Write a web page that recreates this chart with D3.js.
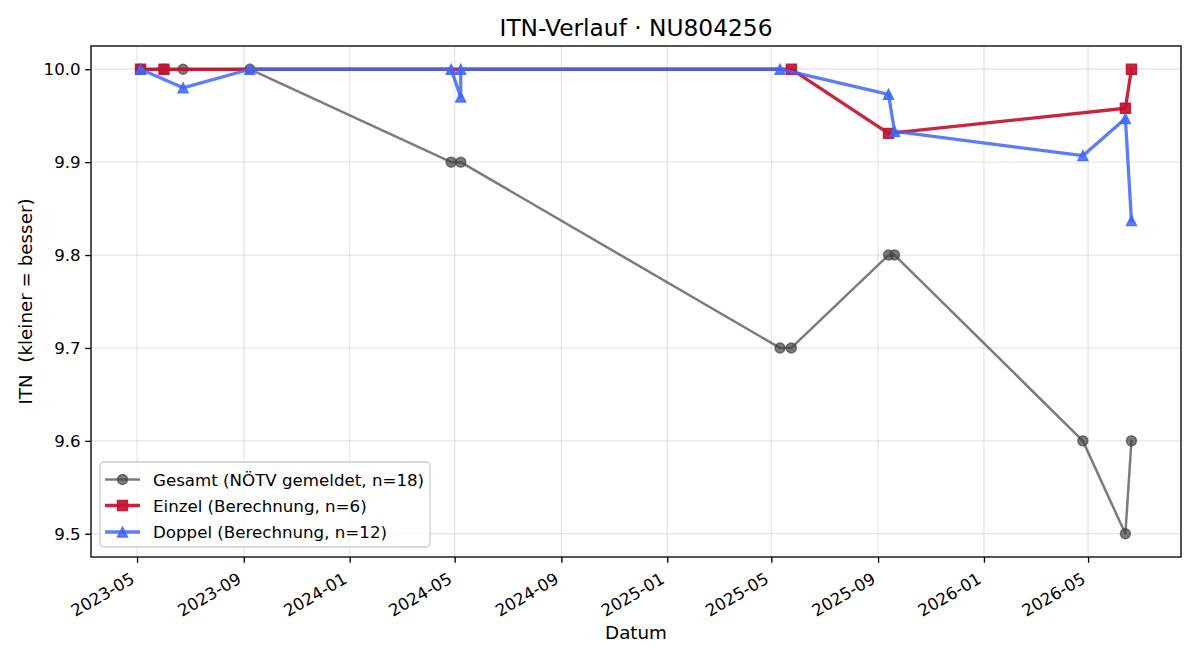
<!DOCTYPE html>
<html><head><meta charset="utf-8">
<script src="https://cdn.jsdelivr.net/npm/d3@7"></script>
<style>
body{margin:0;background:#fff;}
svg{font-family:"DejaVu Sans",sans-serif;}
</style></head>
<body><svg id="c" width="1200" height="660"></svg>
<script>
// ---- data ----
const gesamtDates  = ["2023-05-05","2023-06-01","2023-06-23","2023-09-08","2024-04-27","2024-05-08","2025-05-11","2025-05-24","2025-09-13","2025-09-20","2026-04-25","2026-06-13","2026-06-20"];
const gesamtValues = [10.0,10.0,10.0,10.0,9.9,9.9,9.7,9.7,9.8,9.8,9.6,9.5,9.6];
const einzelDates  = ["2023-05-05","2023-06-01","2025-05-24","2025-09-13","2026-06-13","2026-06-20"];
const einzelValues = [10.0,10.0,10.0,9.931,9.958,10.0];
const doppelDates  = ["2023-05-05","2023-06-23","2023-09-08","2024-04-27","2024-05-08","2024-05-08","2025-05-11","2025-09-13","2025-09-20","2026-04-25","2026-06-13","2026-06-20"];
const doppelValues = [10.0,9.98,10.0,10.0,9.97,10.0,10.0,9.973,9.933,9.907,9.947,9.837];
const xTickLabels = ["2023-05","2023-09","2024-01","2024-05","2024-09","2025-01","2025-05","2025-09","2026-01","2026-05"];
const yTickLabels = ["9.5","9.6","9.7","9.8","9.9","10.0"];
const seriesNames = ["Gesamt (NÖTV gemeldet, n=18)","Einzel (Berechnung, n=6)","Doppel (Berechnung, n=12)"];
const titleText = "ITN-Verlauf · NU804256";
const xLabel = "Datum";
const yLabel = "ITN  (kleiner = besser)";

// ---- setup ----
const svg = d3.select("#c");
const L = 91, R = 1181, T = 46, B = 557;
const parse = d3.utcParse("%Y-%m-%d");
const parseM = d3.utcParse("%Y-%m");
const mk = (ds, vs) => ds.map((d,i)=>({date:parse(d), v:vs[i]}));
const series = [
  {name:seriesNames[0], data:mk(gesamtDates,gesamtValues), color:"#444444", op:0.7, lw:2.5, marker:"circle"},
  {name:seriesNames[1], data:mk(einzelDates,einzelValues), color:"#c41230", op:0.92, lw:3.3, marker:"square"},
  {name:seriesNames[2], data:mk(doppelDates,doppelValues), color:"#3f66f5", op:0.85, lw:3.3, marker:"triangle"}
];
const all = series.flatMap(s=>s.data);
const [xmin,xmax] = d3.extent(all, d=>d.date);
const xpad = (xmax-xmin)*0.05;
const [ymin,ymax] = d3.extent(all, d=>d.v);
const ypad = (ymax-ymin)*0.05;
const x = d3.scaleUtc().domain([new Date(+xmin-xpad), new Date(+xmax+xpad)]).range([L,R]);
const y = d3.scaleLinear().domain([ymin-ypad, ymax+ypad]).range([B,T]);
const xTicks = xTickLabels.map(t=>parseM(t));
const yTicks = yTickLabels.map(Number);

// grid
const g = svg.append("g");
g.selectAll(".vg").data(xTicks).join("line")
  .attr("x1",d=>x(d)).attr("x2",d=>x(d)).attr("y1",T).attr("y2",B)
  .attr("stroke","#b0b0b0").attr("stroke-opacity",0.3).attr("stroke-width",1.33);
g.selectAll(".hg").data(yTicks).join("line")
  .attr("x1",L).attr("x2",R).attr("y1",d=>y(d)).attr("y2",d=>y(d))
  .attr("stroke","#b0b0b0").attr("stroke-opacity",0.3).attr("stroke-width",1.33);

// axes via d3
const xAxis = svg.append("g").attr("transform",`translate(0,${B})`)
  .call(d3.axisBottom(x).tickValues(xTicks).tickFormat((d,i)=>xTickLabels[i]).tickSize(5.8).tickPadding(5.8));
xAxis.select(".domain").remove();
xAxis.selectAll(".tick line").attr("stroke","#000").attr("stroke-width",1.33);
xAxis.selectAll(".tick text")
  .attr("font-size","16.67px").attr("fill","#000").attr("font-family","DejaVu Sans")
  .attr("text-anchor","end").attr("dy",null).attr("y",-3.9).attr("x",0)
  .attr("transform","translate(0,28.6) rotate(-30)");

const yAxis = svg.append("g").attr("transform",`translate(${L},0)`)
  .call(d3.axisLeft(y).tickValues(yTicks).tickFormat((d,i)=>yTickLabels[i]).tickSize(5.8).tickPadding(4.5));
yAxis.select(".domain").remove();
yAxis.selectAll(".tick line").attr("stroke","#000").attr("stroke-width",1.33);
yAxis.selectAll(".tick text").attr("font-size","16.67px").attr("fill","#000").attr("font-family","DejaVu Sans");

// lines & markers
const line = d3.line().x(d=>x(d.date)).y(d=>y(d.v));
function markerPath(type, s){
  if(type==="circle"){ return d3.symbol(d3.symbolCircle, Math.PI*s*s/4)(); }
  if(type==="square"){ const h=s/2; return `M${-h},${-h}H${h}V${h}H${-h}Z`; }
  const h=s/2; return `M0,${-h}L${h},${h}L${-h},${h}Z`;
}
const msize = {circle:10, square:10, triangle:10};
series.forEach(s=>{
  const sg = svg.append("g");
  sg.append("path").datum(s.data).attr("d",line).attr("fill","none")
    .attr("stroke",s.color).attr("stroke-opacity",s.op).attr("stroke-width",s.lw)
    .attr("stroke-linejoin","round").attr("stroke-linecap","square");
  sg.selectAll("path.m").data(s.data).join("path").attr("class","m")
    .attr("d",markerPath(s.marker, msize[s.marker]))
    .attr("transform",d=>`translate(${x(d.date)},${y(d.v)})`)
    .attr("fill",s.color).attr("fill-opacity",s.op)
    .attr("stroke",s.color).attr("stroke-opacity",s.op).attr("stroke-width",1.4);
});

// frame
svg.append("rect").attr("x",L).attr("y",T).attr("width",R-L).attr("height",B-T)
  .attr("fill","none").attr("stroke","#000").attr("stroke-width",1.33);

// title & labels
svg.append("text").attr("x",(L+R)/2).attr("y",36).attr("text-anchor","middle")
  .attr("font-size","23.3px").attr("fill","#000").text(titleText);
svg.append("text").attr("x",(L+R)/2).attr("y",639).attr("text-anchor","middle")
  .attr("font-size","18.3px").attr("fill","#000").text(xLabel);
svg.append("text").attr("transform",`translate(32,${(T+B)/2}) rotate(-90)`).attr("text-anchor","middle")
  .attr("font-size","18.3px").attr("fill","#000").style("white-space","pre").text(yLabel);

// legend
const lg = svg.append("g");
lg.append("rect").attr("x",100).attr("y",462).attr("width",330).attr("height",85).attr("rx",4)
  .attr("fill","#fff").attr("fill-opacity",0.8).attr("stroke","#cccccc").attr("stroke-width",1.33);
const rowY = [479.5, 505.5, 532];
series.forEach((s,i)=>{
  const yy = rowY[i];
  lg.append("line").attr("x1",105).attr("x2",140).attr("y1",yy).attr("y2",yy)
    .attr("stroke",s.color).attr("stroke-opacity",s.op).attr("stroke-width",s.lw);
  lg.append("path").attr("d",markerPath(s.marker, msize[s.marker]))
    .attr("transform",`translate(122.5,${yy})`)
    .attr("fill",s.color).attr("fill-opacity",s.op)
    .attr("stroke",s.color).attr("stroke-opacity",s.op).attr("stroke-width",1.4);
  lg.append("text").attr("x",153).attr("y",yy+6).attr("font-size","16.67px").attr("fill","#000").text(s.name);
});
</script></body></html>
